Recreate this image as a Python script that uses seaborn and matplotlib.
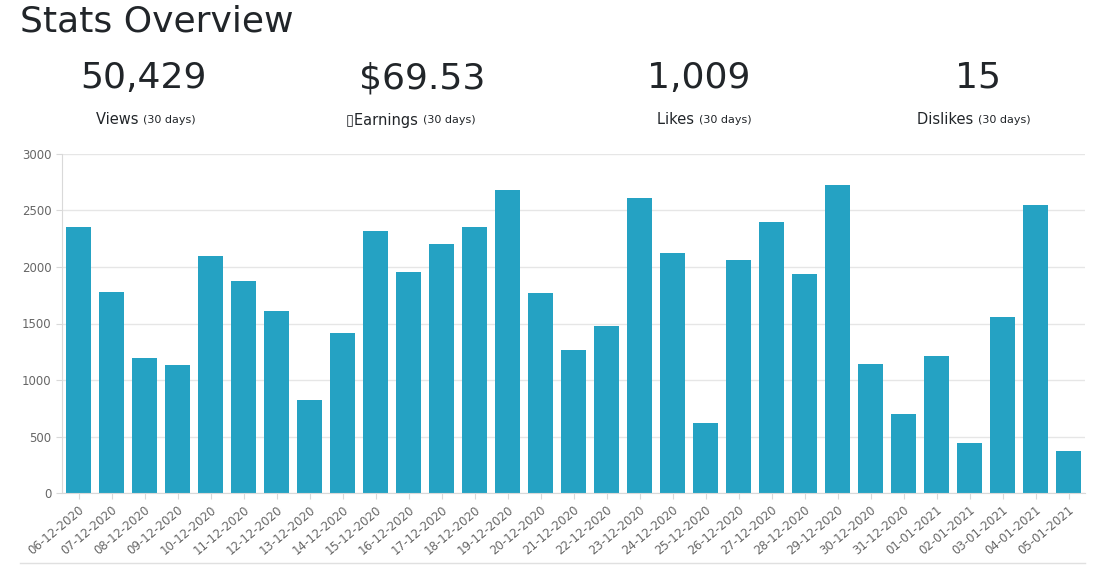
import matplotlib
matplotlib.use("Agg")
import matplotlib.pyplot as plt
import seaborn as sns
import pandas as pd

# Data
dates = ["06-12-2020", "07-12-2020", "08-12-2020", "09-12-2020", "10-12-2020", "11-12-2020",
         "12-12-2020", "13-12-2020", "14-12-2020", "15-12-2020", "16-12-2020", "17-12-2020",
         "18-12-2020", "19-12-2020", "20-12-2020", "21-12-2020", "22-12-2020", "23-12-2020",
         "24-12-2020", "25-12-2020", "26-12-2020", "27-12-2020", "28-12-2020", "29-12-2020",
         "30-12-2020", "31-12-2020", "01-01-2021", "02-01-2021", "03-01-2021", "04-01-2021",
         "05-01-2021"]
views = [2350, 1775, 1195, 1135, 2095, 1875, 1610, 825, 1415, 2320, 1960, 2200, 2355, 2680,
         1770, 1265, 1480, 2610, 2125, 620, 2065, 2395, 1935, 2730, 1140, 700, 1210, 440,
         1555, 2545, 370]

kpi_values = ["50,429", "$69.53", "1,009", "15"]
kpi_labels = ["Views", "\u25afEarnings", "Likes", "Dislikes"]
kpi_x = [0.128, 0.378, 0.625, 0.875]

df = pd.DataFrame({"date": dates, "views": views})

fig = plt.figure(figsize=(11.18, 5.69), dpi=100)
ax = fig.add_axes([62 / 1118, 1 - 493 / 569, (1085 - 62) / 1118, (493 - 154) / 569])

sns.barplot(data=df, x="date", y="views", color="#25a2c3", saturation=1, width=0.74, ax=ax)

ax.set_ylim(0, 3000)
ax.set_xlim(-0.5, len(dates) - 0.5)
ax.set_yticks(range(0, 3001, 500))
ax.grid(axis="y", color="#e6e6e6", linewidth=1)
ax.set_axisbelow(True)
ax.set_xlabel("")
ax.set_ylabel("")
for s in ["top", "right"]:
    ax.spines[s].set_visible(False)
ax.spines["left"].set_color("#d9d9d9")
ax.spines["bottom"].set_color("#d9d9d9")
ax.tick_params(axis="both", labelsize=8.5, colors="#666666", length=4)
ax.tick_params(axis="both", color="#d9d9d9")
plt.setp(ax.get_xticklabels(), rotation=40, ha="right", rotation_mode="anchor")

fig.text(20 / 1118, 1 - 22 / 569, "Stats Overview", fontsize=26, color="#212529", va="center")
for x, v, l in zip(kpi_x, kpi_values, kpi_labels):
    fig.text(x, 1 - 78 / 569, v, fontsize=26, color="#212529", ha="center", va="center")
    fig.text(x, 1 - 120 / 569, l + " ", fontsize=10.5, color="#212529", ha="right", va="center")
    fig.text(x, 1 - 120 / 569, "(30 days)", fontsize=8, color="#212529", ha="left", va="center")

fig.add_artist(plt.Line2D([20 / 1118, 1085 / 1118], [1 - 563 / 569] * 2, color="#e0e0e0", lw=1))

fig.savefig("out.png", dpi=100)
